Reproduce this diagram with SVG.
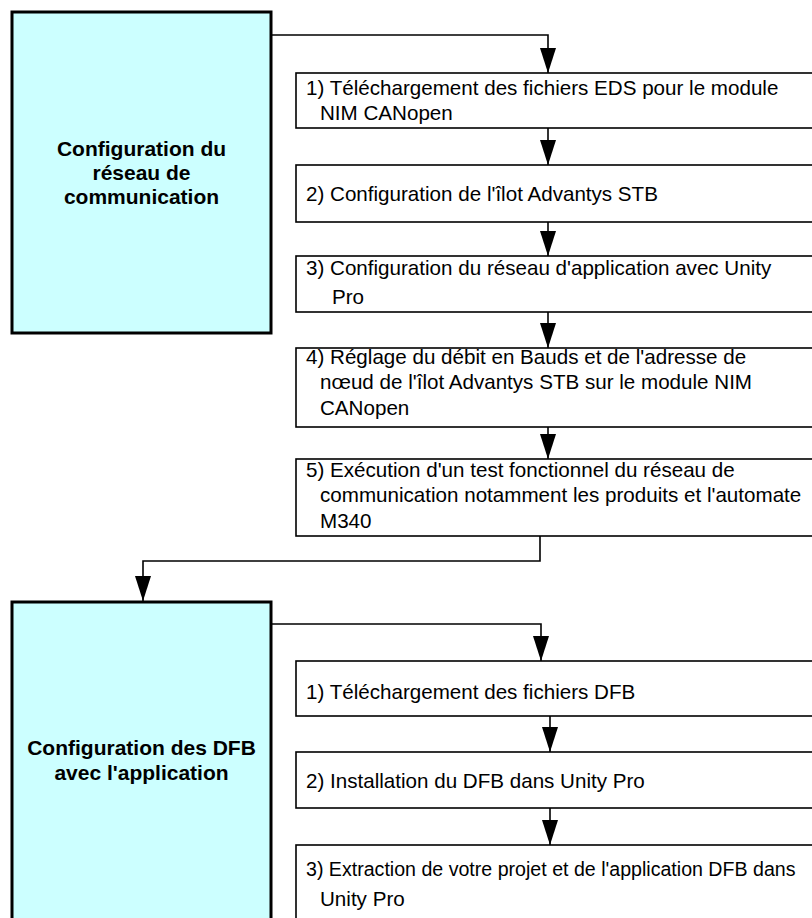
<svg xmlns="http://www.w3.org/2000/svg" width="812" height="918" viewBox="0 0 812 918">
<defs>
<marker id="ah" markerWidth="25" markerHeight="16" refX="25" refY="8" orient="auto" markerUnits="userSpaceOnUse" viewBox="0 0 25 16">
<path d="M0,0 L25,8 L0,16 Z" fill="#000"/>
</marker>
<style>
.big{fill:#ccffff;stroke:#000;stroke-width:3}
.step{fill:#fff;stroke:#000;stroke-width:1.6}
.title{font-family:"Liberation Sans",Arial,sans-serif;font-weight:bold;font-size:21px;fill:#000;text-anchor:middle}
.txt{font-family:"Liberation Sans",Arial,sans-serif;font-size:20.6px;fill:#000}
.conn{fill:none;stroke:#000;stroke-width:1.6}
</style>
</defs>
<rect width="812" height="918" fill="#fff"/>
<g id="connectors">
<path class="conn" d="M271,35 H548 V73" marker-end="url(#ah)"/>
<path class="conn" d="M548,128 V165" marker-end="url(#ah)"/>
<path class="conn" d="M548,222 V256" marker-end="url(#ah)"/>
<path class="conn" d="M548,312 V348" marker-end="url(#ah)"/>
<path class="conn" d="M548,427 V459" marker-end="url(#ah)"/>
<path class="conn" d="M540,536 V561 H143 V601" marker-end="url(#ah)"/>
<path class="conn" d="M271,624 H541 V661" marker-end="url(#ah)"/>
<path class="conn" d="M550,716 V752" marker-end="url(#ah)"/>
<path class="conn" d="M550,808 V845" marker-end="url(#ah)"/>
</g>
<g id="group1">
<rect class="big" x="12" y="12" width="259" height="321"/>
<text class="title" x="141.5" y="156">Configuration du</text>
<text class="title" x="141.5" y="180">réseau de</text>
<text class="title" x="141.5" y="204">communication</text>
</g>
<g id="s1">
<rect class="step" x="296" y="73" width="530" height="55"/>
<text class="txt" x="306" y="95">1) Téléchargement des fichiers EDS pour le module</text>
<text class="txt" x="320" y="120">NIM CANopen</text>
</g>
<g id="s2">
<rect class="step" x="296" y="165" width="530" height="57"/>
<text class="txt" x="306" y="201">2) Configuration de l'îlot Advantys STB</text>
</g>
<g id="s3">
<rect class="step" x="296" y="256" width="530" height="56"/>
<text class="txt" x="306" y="275">3) Configuration du réseau d'application avec Unity</text>
<text class="txt" x="332" y="304">Pro</text>
</g>
<g id="s4">
<rect class="step" x="296" y="348" width="530" height="79"/>
<text class="txt" x="306" y="364">4) Réglage du débit en Bauds et de l'adresse de</text>
<text class="txt" x="320" y="389">nœud de l'îlot Advantys STB sur le module NIM</text>
<text class="txt" x="320" y="415">CANopen</text>
</g>
<g id="s5">
<rect class="step" x="296" y="459" width="530" height="77"/>
<text class="txt" x="306" y="477">5) Exécution d'un test fonctionnel du réseau de</text>
<text class="txt" x="320" y="502">communication notamment les produits et l'automate</text>
<text class="txt" x="320" y="528">M340</text>
</g>
<g id="group2">
<rect class="big" x="12" y="602" width="259" height="330"/>
<text class="title" x="141.5" y="755">Configuration des DFB</text>
<text class="title" x="141.5" y="780">avec l'application</text>
</g>
<g id="d1">
<rect class="step" x="296" y="661" width="530" height="55"/>
<text class="txt" x="306" y="699">1) Téléchargement des fichiers DFB</text>
</g>
<g id="d2">
<rect class="step" x="296" y="752" width="530" height="56"/>
<text class="txt" x="306" y="788">2) Installation du DFB dans Unity Pro</text>
</g>
<g id="d3">
<rect class="step" x="296" y="845" width="530" height="90"/>
<text class="txt" x="306" y="876" style="font-size:19.6px">3) Extraction de votre projet et de l'application DFB dans</text>
<text class="txt" x="320" y="906">Unity Pro</text>
</g>
</svg>
